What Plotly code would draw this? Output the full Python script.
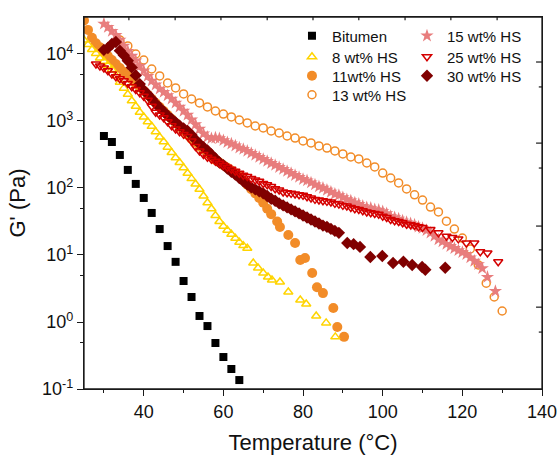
import plotly.graph_objects as go

# ---------------- data ----------------
T_bit = [30, 32, 34, 36, 38, 40, 42, 44, 46, 48, 50, 52, 54, 56, 58, 60, 62, 64]
G_bit = [597, 486, 311, 186, 115, 71, 42.4, 24.4, 13.6, 7.9, 4.09, 2.36, 1.23, 0.87,
         0.486, 0.30, 0.199, 0.136]

T_8 = list(range(25, 67)) + [67.5, 68.7, 70.0, 71.2, 72.2, 74.2, 76.3, 79.3, 80.8, 83.3, 85.8, 88.1]
G_8 = [16200, 13800, 11700, 10200, 8710, 7760, 6760, 5890, 4790, 3800, 3090, 2510, 2000,
       1660, 1350, 1150, 977, 832, 692, 575, 490, 407, 339, 282, 240, 200, 166, 138, 115,
       95.5, 75.9, 60.3, 49.0, 38.9, 31.6, 26.9, 23.4, 20.4, 17.8, 15.5, 13.8, 12.6,
       7.59, 6.40, 5.38, 4.70, 4.24, 3.95, 2.81, 2.13, 1.86, 1.23, 0.97, 0.60]

T_11 = list(range(25, 73)) + [73.5, 74.2, 76.3, 78, 79.3, 80.5, 82.3, 83.5, 85, 87.6, 88.6, 90.3]
G_11 = [31600, 22900, 17400, 14500, 12600, 10700, 9330, 8130, 7080, 6170, 5370, 4790,
        4170, 3630, 3160, 2820, 2450, 2140, 1860, 1620, 1410, 1230, 1070, 933, 813, 708,
        617, 537, 479, 417, 372, 331, 295, 263, 240, 219, 200, 182, 166, 148, 129, 112,
        95.5, 83.2, 70.8, 60.3, 49.0, 40.7,
        31.6, 26.2, 19.9, 15.1, 8.4, 9.0, 5.4, 3.3, 2.7, 1.62, 0.84, 0.60]

T_13 = list(range(34, 131, 2))
G_13 = [16200, 13200, 10000, 8130, 5970, 4700, 3690, 3110, 2530, 2130, 1860, 1620, 1410,
        1270, 1150, 1035, 934, 842, 787, 709, 662, 597, 557, 503, 470, 424, 395, 357, 322,
        290, 271, 236, 206, 167, 141, 119, 97, 79, 66, 52, 44, 32, 24.4, 17.9, 12.3, 7.1,
        3.8, 2.36, 1.46]

T_15 = list(range(30, 126)) + [126.3, 128.3]
G_15 = [28200, 25100, 21900, 19100, 16200, 13200, 11000, 9330, 7940, 6610, 5620, 4680,
        3980, 3470, 3020, 2690, 2400, 2140, 1860, 1620, 1410, 1230, 1050, 891, 759, 646,
        575, 550, 562, 550, 513, 479, 457, 427, 398, 380, 355, 331, 309, 288, 269, 251,
        234, 219, 204, 191, 178, 166, 155, 145, 135, 129, 120, 112, 105, 100, 93.3, 87.1,
        81.3, 77.6, 72.4, 67.6, 64.6, 60.3, 57.5, 53.7, 51.3, 50.1, 47.9, 46.8, 44.7, 41.7,
        38.0, 36.3, 34.7, 32.4, 30.9, 29.5, 28.2, 26.3, 25.1, 23.4, 21.4, 19.1, 17.0, 15.8,
        14.5, 13.5, 12.6, 11.7, 11.0, 10.2, 9.12, 8.13, 7.24, 6.31,
        4.68, 2.88]

T_25 = list(range(28, 111)) + [112, 114, 116, 117.5, 119, 121, 123, 124.5, 126.3, 129]
G_25 = [7080, 6610, 6170, 5620, 5010, 4570, 4270, 3980, 3630, 3240, 2950, 2630, 2340,
        2040, 1660, 1350, 1230, 1120, 977, 851, 759, 692, 631, 589, 501, 417, 355, 316,
        288, 269, 251, 234, 219, 204, 191, 178, 166, 155, 148, 138, 132, 126, 117, 112,
        105, 97.7, 93.3, 87.1, 85.1, 83.2, 81.3, 79.4, 77.6, 74.1, 70.8, 67.6, 66.1, 64.6,
        63.1, 61.7, 58.9, 57.5, 55.0, 53.7, 51.3, 49.0, 47.9, 45.7, 43.7, 42.7, 41.7, 40.7,
        38.0, 36.3, 33.9, 32.4, 31.6, 30.2, 28.8, 28.2, 27.5, 26.3, 25.7,
        24.0, 21.4, 19.1, 18.2, 17.4, 15.1, 15.1, 11.2, 10.7, 7.94]

T_30 = list(range(30, 90)) + [91.1, 92.7, 94.3, 96.9, 99.9, 102.6, 105.2, 107.4, 109.9, 110.7, 115.7]
G_30 = [11500, 12300, 14100, 15100, 11200, 9550, 7940, 6310, 4790, 3550, 2880, 2510,
        2140, 1820, 1580, 1380, 1200, 1070, 955, 851, 776, 708, 617, 525, 457, 407, 363,
        316, 275, 240, 219, 195, 174, 158, 141, 126, 112, 102, 95.5, 89.1, 83.2, 75.9,
        69.2, 64.6, 58.9, 55.0, 51.3, 47.9, 44.7, 41.7, 38.9, 36.3, 33.9, 31.6, 29.5,
        27.5, 26.3, 24.5, 22.9, 21.4,
        15.1, 14.5, 13.2, 9.33, 9.66, 7.59, 7.94, 7.08, 6.61, 6.03, 6.46]

X_TICKS = [40, 60, 80, 100, 120, 140]
X_MINOR = [30, 50, 70, 90, 110, 130]
Y_TICKS = [0.1, 1, 10, 100, 1000, 10000]
Y_TICKTEXT = ["10<sup>-1</sup>", "10<sup>0</sup>", "10<sup>1</sup>",
              "10<sup>2</sup>", "10<sup>3</sup>", "10<sup>4</sup>"]
Y_MINOR = [0.5, 5, 50, 500, 5000]

# frame tick positions on the top / right edges (paper fractions, as in the reference)
TOP_TICKS = [0.098, 0.199, 0.299, 0.400, 0.500, 0.600, 0.701, 0.801, 0.902]
RIGHT_MAJOR = [0.220, 0.438, 0.661, 0.879]
RIGHT_MINOR = [0.153, 0.374, 0.594, 0.812]

# ---------------- styling ----------------
FONT = "Liberation Sans, Arial, Helvetica, sans-serif"
AX = "#1a1a1a"

fig = go.Figure()

# legend slots (paper coords): two columns, rows like the reference
COL1, COL2 = 0.4541, 0.7052
ROWS = [0.9489, 0.8925, 0.8414, 0.7903]
LEG_POS = {
    "legend": (COL1, ROWS[0]), "legend2": (COL1, ROWS[1]),
    "legend3": (COL1, ROWS[2]), "legend4": (COL1, ROWS[3]),
    "legend5": (COL2, ROWS[0]), "legend6": (COL2, ROWS[1]),
    "legend7": (COL2, ROWS[2]),
}


def add(name, T, G, symbol, color, size, lw, legend):
    fig.add_trace(go.Scatter(
        x=T, y=G, mode="markers", name=name, legend=legend,
        marker=dict(symbol=symbol, color=color, size=size,
                    line=dict(width=lw, color=color)),
    ))


add("Bitumen", T_bit, G_bit, "square", "#000000", 8, 0, "legend")
add("11wt% HS", T_11, G_11, "circle", "#F28C28", 10, 0, "legend3")
add("8 wt% HS", T_8, G_8, "triangle-up-open", "#FFD400", 8, 1.5, "legend2")
add("13 wt% HS", T_13, G_13, "circle-open", "#F28C28", 8, 1.5, "legend4")
add("15 wt% HS", T_15, G_15, "star", "#E87D7D", 10, 0, "legend5")
add("30 wt% HS", T_30, G_30, "diamond", "#800000", 9.5, 0, "legend7")
add("25 wt% HS", T_25, G_25, "triangle-down-open", "#D40000", 8, 1.5, "legend6")

legends = {}
for key, (lx, ly) in LEG_POS.items():
    legends[key] = dict(x=lx, y=ly, xanchor="left", yanchor="middle",
                        bgcolor="rgba(0,0,0,0)", borderwidth=0,
                        font=dict(family=FONT, size=15, color="#111"),
                        itemwidth=30, tracegroupgap=0)

# plot frame (closed box) plus the short inward ticks on the top and right edges
shapes = [dict(type="rect", xref="paper", yref="paper", x0=0, y0=0, x1=1, y1=1,
               line=dict(color=AX, width=1.3), fillcolor="rgba(0,0,0,0)", layer="above")]
for px in TOP_TICKS:
    shapes.append(dict(type="line", xref="paper", yref="paper", x0=px, x1=px,
                       y0=1, y1=1 - 0.009, line=dict(color=AX, width=1.2), layer="above"))
for py in RIGHT_MAJOR:
    shapes.append(dict(type="line", xref="paper", yref="paper", x0=1, x1=1 - 0.013,
                       y0=py, y1=py, line=dict(color=AX, width=1.2), layer="above"))
for py in RIGHT_MINOR:
    shapes.append(dict(type="line", xref="paper", yref="paper", x0=1, x1=1 - 0.007,
                       y0=py, y1=py, line=dict(color=AX, width=1.2), layer="above"))

fig.update_layout(
    width=559, height=455,
    template="none",
    paper_bgcolor="white", plot_bgcolor="white",
    margin=dict(l=84, r=17, t=17, b=66),
    font=dict(family=FONT, color="#111"),
    xaxis=dict(
        range=[25, 140], tickvals=X_TICKS, ticks="outside", ticklen=6, tickwidth=1.2,
        tickcolor=AX, showline=True, linewidth=1.3, linecolor=AX, showgrid=False,
        zeroline=False, automargin=False, mirror=True,
        minor=dict(tickvals=X_MINOR, ticks="outside", ticklen=3, tickwidth=1.2,
                   tickcolor=AX, showgrid=False),
        tickfont=dict(size=18, family=FONT, color="#111"),
        title=dict(text="Temperature (°C)", font=dict(size=22, family=FONT, color="#111"),
                   standoff=13),
    ),
    yaxis=dict(
        type="log", range=[-1, 4.552], tickvals=Y_TICKS, ticktext=Y_TICKTEXT,
        ticks="outside", ticklen=6, tickwidth=1.2, tickcolor=AX,
        showline=True, linewidth=1.3, linecolor=AX, showgrid=False, zeroline=False,
        automargin=False, mirror=True,
        minor=dict(tickvals=Y_MINOR, ticks="outside", ticklen=3, tickwidth=1.2,
                   tickcolor=AX, showgrid=False),
        tickfont=dict(size=18, family=FONT, color="#111"),
        title=dict(text="G' (Pa)", font=dict(size=22, family=FONT, color="#111"),
                   standoff=10),
    ),
    shapes=shapes,
    showlegend=True,
    **legends,
)

fig.write_html("out.html", post_script="document.body.style.margin='0px';",
               config={"displayModeBar": False})
